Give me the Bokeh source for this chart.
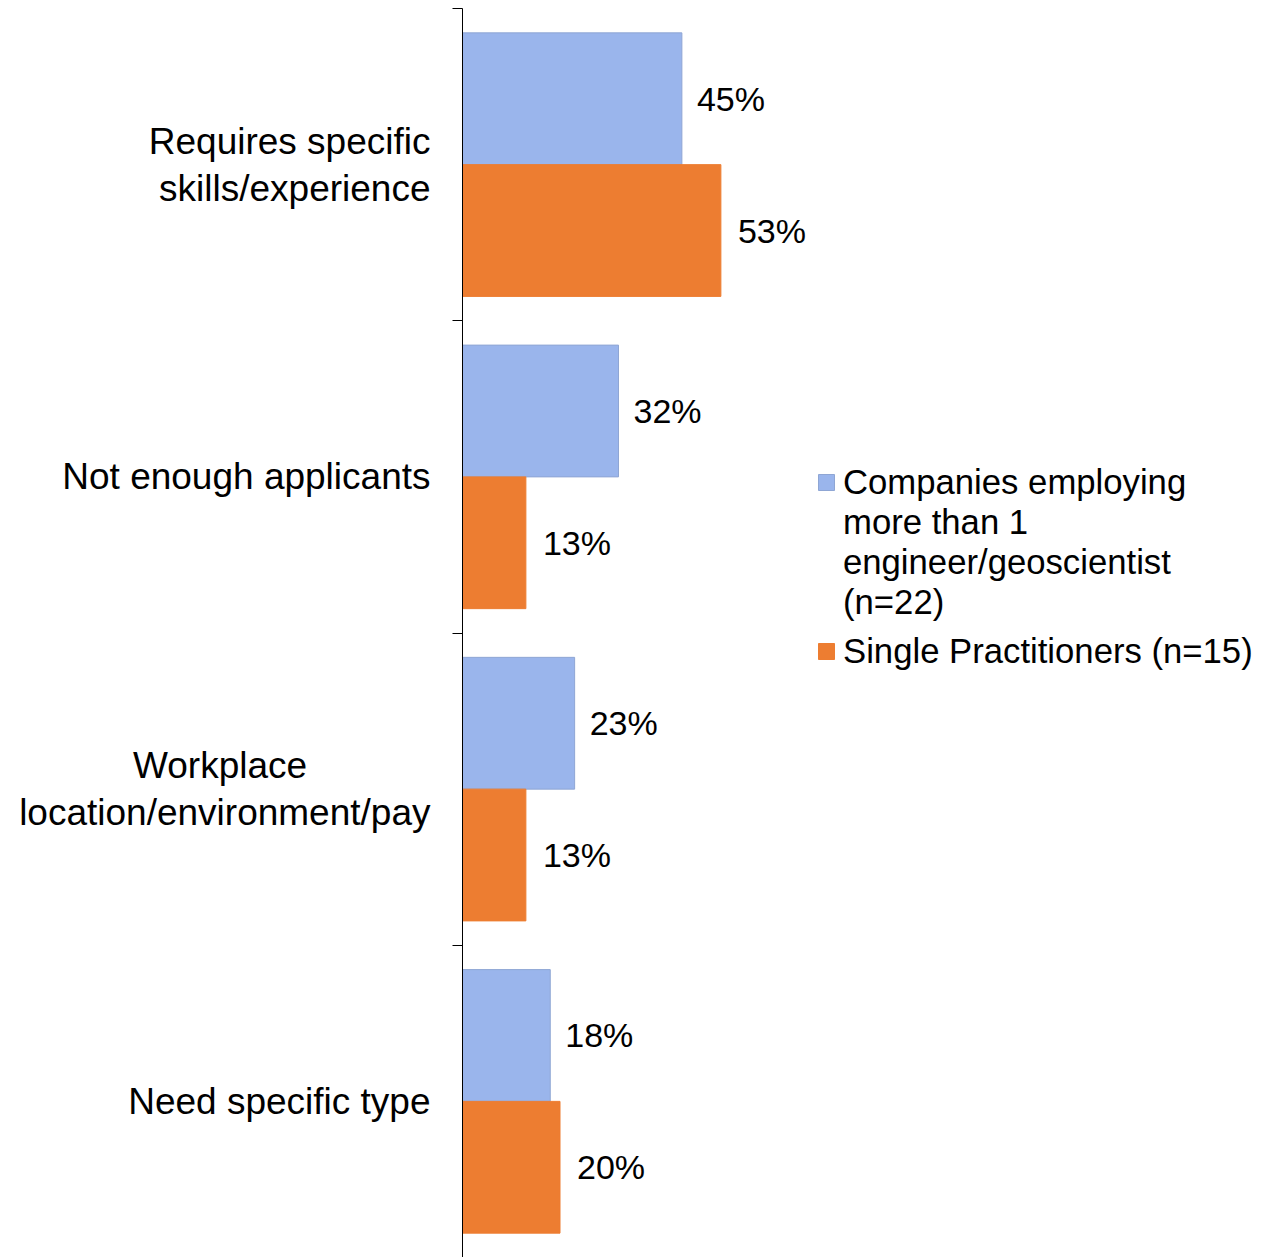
from bokeh.plotting import figure
from bokeh.models import (ColumnDataSource, Range1d, FixedTicker, Legend, LegendItem, LinearAxis)
from bokeh.transform import dodge
from bokeh.embed import file_html
from bokeh.resources import INLINE
from bokeh.core.properties import value

NB = "\u00a0"
categories = ["Requires specific\nskills/experience", "Not enough applicants",
              "Workplace" + NB * 12 + "\nlocation/environment/pay", "Need specific type"]
companies = [45, 32, 23, 18]
single = [53, 13, 13, 20]
series_lines = [["Companies employing", "more than 1", "engineer/geoscientist", "(n=22)"],
                ["Single Practitioners (n=15)"]]

FONT = "Liberation Sans"
BLUE = "#9AB5EC"
ORANGE = "#ED7D31"

n = len(categories)
ypos = [n - 0.5 - i for i in range(n)]

src = ColumnDataSource(dict(
    y=ypos, comp=companies, single=single,
    comp_lab=[f"{v}%" for v in companies],
    single_lab=[f"{v}%" for v in single],
))

p = figure(width=1262, height=1257, x_range=Range1d(0, 164.1), y_range=Range1d(0, n),
           output_backend="svg", toolbar_location=None, x_axis_location=None,
           y_axis_location=None,
           min_border_left=462, min_border_right=0, min_border_top=8, min_border_bottom=0)
p.outline_line_color = None
p.xgrid.visible = False
p.ygrid.visible = False

yaxis = LinearAxis(ticker=FixedTicker(ticks=ypos, minor_ticks=list(range(n + 1))))
yaxis.major_label_overrides = {ypos[i]: categories[i] for i in range(n)}
yaxis.major_tick_line_color = None
yaxis.major_tick_in = 0
yaxis.major_tick_out = 0
yaxis.minor_tick_in = 0
yaxis.minor_tick_out = 10
yaxis.minor_tick_line_color = "black"
yaxis.axis_line_color = "black"
yaxis.major_label_standoff = 22
yaxis.major_label_text_font = FONT
yaxis.major_label_text_font_size = "37px"
yaxis.major_label_text_line_height = 1.15
yaxis.major_label_text_color = "black"
p.add_layout(yaxis, "left")

h = 0.422
off = 0.211
rb = p.hbar(y=dodge("y", off), right="comp", left=0, height=h, source=src,
            fill_color=BLUE, line_color="#8FA6D4", line_width=1)
ro = p.hbar(y=dodge("y", -off), right="single", left=0, height=h, source=src,
            fill_color=ORANGE, line_color=ORANGE)
# invisible renderer used for the continuation lines of the legend text
blank = p.hbar(y=[], right=[], left=0, height=h, fill_alpha=0, line_alpha=0)

p.text(x="comp", y=dodge("y", off), text="comp_lab", source=src, x_offset=15,
       text_align="left", text_baseline="middle", text_font=value(FONT),
       text_font_size="34px", text_color="black")
p.text(x="single", y=dodge("y", -off), text="single_lab", source=src, x_offset=17,
       text_align="left", text_baseline="middle", text_font=value(FONT),
       text_font_size="34px", text_color="black")


def make_legend(lines, rend, loc):
    items = [LegendItem(label=lines[0], renderers=[rend])]
    items += [LegendItem(label=t, renderers=[blank]) for t in lines[1:]]
    lg = Legend(items=items, location=loc)
    lg.border_line_color = None
    lg.background_fill_alpha = 0
    lg.padding = 0
    lg.margin = 0
    lg.spacing = 0
    lg.glyph_width = 20
    lg.glyph_height = 20
    lg.label_height = 40
    lg.label_standoff = 7
    lg.label_text_font = FONT
    lg.label_text_font_size = "34.7px"
    lg.label_text_line_height = 1.0
    lg.label_text_color = "black"
    return lg


lg1 = make_legend(series_lines[0], rb, (354, 635))
lg2 = make_legend(series_lines[1], ro, (354, 586))
p.add_layout(lg1, "center")
p.add_layout(lg2, "center")

open("out.html", "w").write(file_html(p, INLINE))
